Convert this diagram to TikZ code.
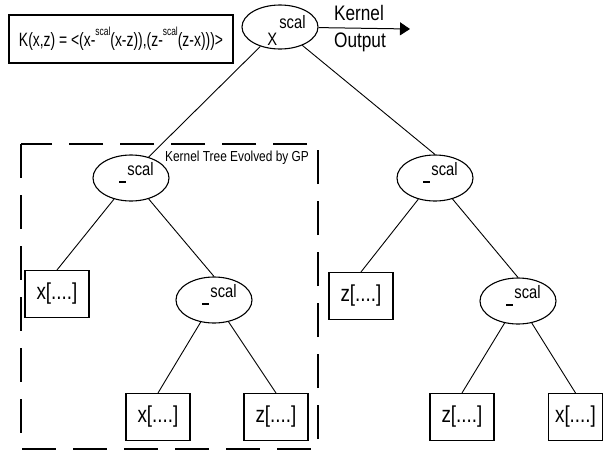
\documentclass[tikz,border=0pt]{standalone}
\usepackage{fontspec}
\setmainfont{Liberation Sans}
\newfontfamily\narrowsans[FakeStretch=0.82]{Liberation Sans}
\newfontfamily\formulasans[FakeStretch=0.72]{Liberation Sans}
\usetikzlibrary{arrows.meta,shapes.geometric}
\newcommand{\opscal}{\hspace*{11pt}\rule[-5pt]{7pt}{2.5pt}\hspace{1pt}\raisebox{3pt}{scal}}
\newcommand{\rootscal}{\hspace*{13pt}\raisebox{-18pt}{\fontsize{18}{18}\selectfont X}\hspace{2pt}\raisebox{-1pt}{scal}}
\newcommand{\supscal}{\raisebox{11pt}{\fontsize{11.7}{12}\selectfont scal}}

\begin{document}
\begin{tikzpicture}[x=1pt,y=-1pt,
  op/.style={ellipse,draw,line width=1.1pt,minimum width=76pt,minimum height=46pt,inner sep=0pt,
    text height=0pt,text depth=0pt,font=\narrowsans\fontsize{18}{18}\selectfont},
  leaf/.style={draw,line width=1.1pt,minimum width=64pt,minimum height=47pt,inner sep=0pt,
    font=\narrowsans\fontsize{23}{23}\selectfont},
  branch/.style={line width=0.9pt}]
\useasboundingbox (0,0) rectangle (603,453);
% formula and evolved part
\node[draw,line width=2.2pt,minimum width=224pt,minimum height=48pt,inner sep=0pt,
  font=\formulasans\fontsize{19.3}{20}\selectfont] (kdef) at (121,39)
  {K(x,z) = <(x-\supscal(x-z)),(z-\supscal(z-x)))>};
\draw[line width=2.4pt,dash pattern=on 34pt off 17pt] (21,144) rectangle (318,449);
\node[anchor=west,inner sep=0pt,font=\narrowsans\fontsize{14.5}{15}\selectfont] (gplabel) at (165,158) {Kernel Tree Evolved by GP};
% tree
\node[op,minimum height=44pt] (root) at (280,27) {\rootscal};
\node[op] (L1) at (131,178) {\opscal};
\node[op] (R1) at (435,178) {\opscal};
\node[op] (L2) at (214,300) {\opscal};
\node[op] (R2) at (518,301) {\opscal};
\node[leaf] (xa) at (57,294) {x[....]};
\node[leaf] (zb) at (361,296) {z[....]};
\node[leaf] (xc) at (158,417) {x[....]};
\node[leaf] (zd) at (276,417) {z[....]};
\node[leaf] (ze) at (462,417) {z[....]};
\node[leaf,minimum width=54pt] (xf) at (575.5,417) {x[....]};
\draw[branch] (root) -- (L1.50);
\draw[branch] (root) -- (R1.north);
\draw[branch] (L1) -- (xa.north);
\draw[branch] (L1) -- (L2.north);
\draw[branch] (R1) -- (zb.north);
\draw[branch] (R1) -- (R2.north);
\draw[branch] (L2) -- (xc.north);
\draw[branch] (L2) -- (zd.north);
\draw[branch] (R2) -- (ze.north);
\draw[branch] (R2) -- (xf.north);
% output
\coordinate (out) at (410,29);
\draw[line width=1pt,-{Triangle[length=10pt,width=13pt]}] (root) -- (out);
\node[anchor=base,inner sep=0pt,font=\narrowsans\fontsize{21}{21}\selectfont] (kname) at (359,20) {Kernel};
\node[anchor=base,inner sep=0pt,font=\narrowsans\fontsize{21}{21}\selectfont] (oname) at (360,47) {Output};
\end{tikzpicture}
\end{document}
